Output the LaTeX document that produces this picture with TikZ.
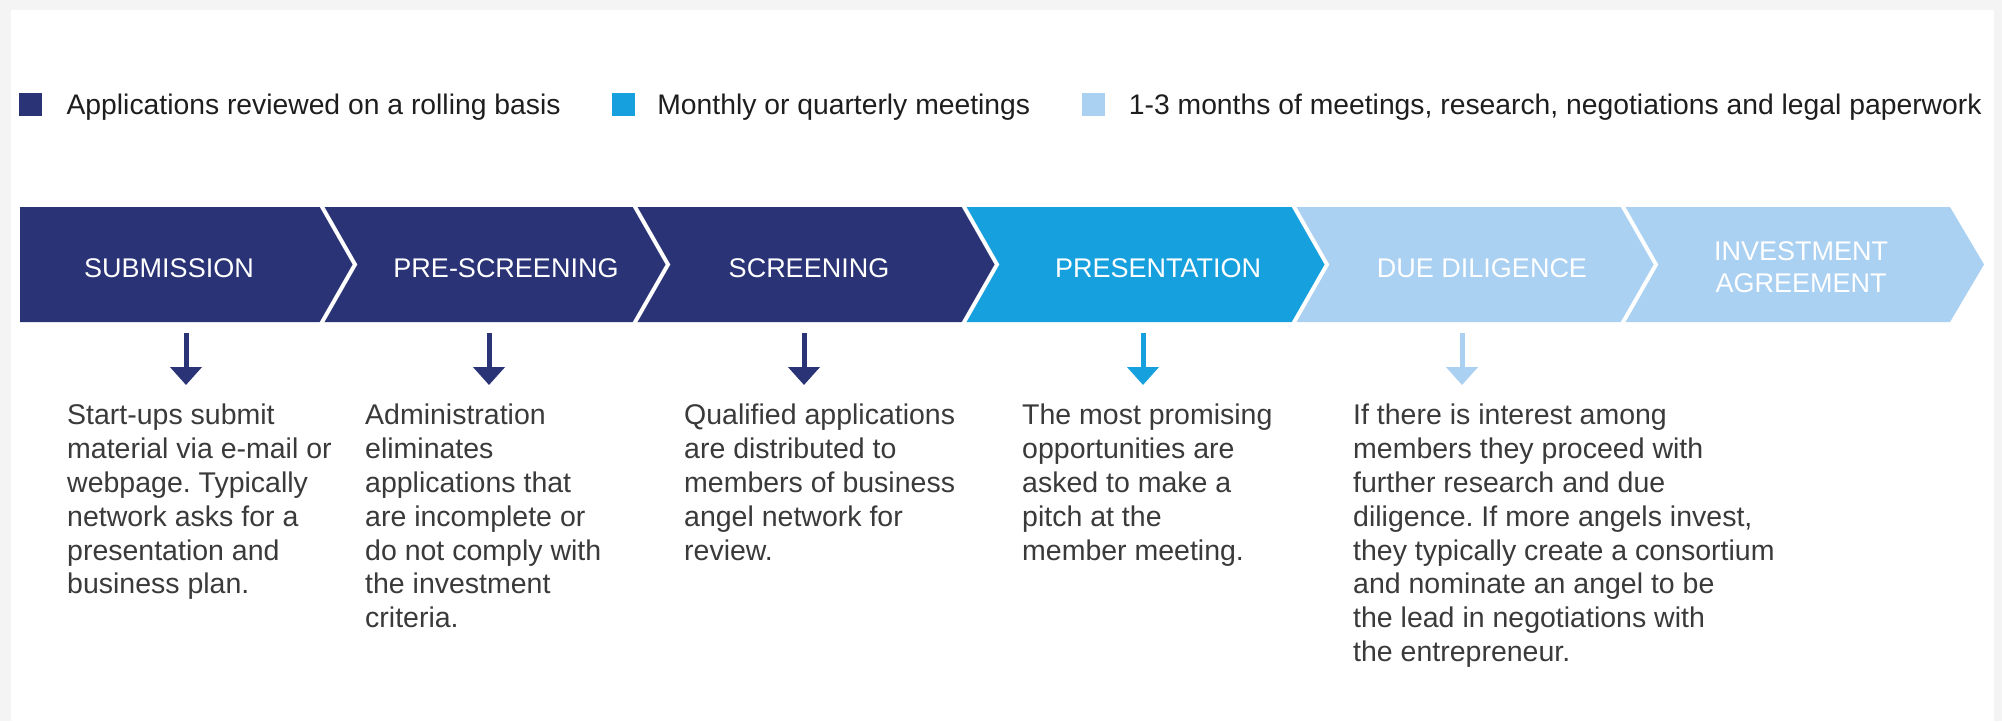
\documentclass[tikz,border=0pt]{standalone}
\usepackage{fontspec}
\setmainfont{Liberation Sans}
\usetikzlibrary{arrows.meta,positioning}
\frenchspacing

\definecolor{navy}{RGB}{41,51,117}
\definecolor{azure}{RGB}{22,160,221}
\definecolor{pale}{RGB}{170,208,242}
\definecolor{ink}{RGB}{58,58,58}
\definecolor{keyink}{RGB}{30,30,30}
\definecolor{frame}{RGB}{244,244,244}

\begin{document}
\begin{tikzpicture}[x=1pt,y=-1pt]
\tikzset{
    band cut/.style={white, line width=4pt, line join=miter},
    stage label/.style={text=white, inner sep=0pt, align=center,
        font=\fontsize{27}{32}\selectfont},
    note/.style={text=ink, inner sep=0pt, align=left, anchor=north west,
        font=\fontsize{28.5}{33.8}\selectfont},
    swatch/.style={fill=#1, minimum size=23pt, inner sep=0pt, anchor=north west},
    key text/.style={text=keyink, inner sep=0pt, text height=24pt, text depth=5pt,
        font=\fontsize{28.3}{34}\selectfont},
    drop/.style={draw=#1, line width=5pt, -{Triangle[length=18pt,width=31pt]}}}
\def\btop{207}
\def\bbot{322}
\def\bmid{264.5}
\def\tip{34}

\useasboundingbox (0,0) rectangle (2002,721);
\fill[frame] (0,0) rectangle (2002,721);
\fill[white] (11,10) rectangle (1994,721);

% legend
\node[swatch=navy] (sq1) at (19,93) {};
\node[key text, right=24pt of sq1] (k1) {Applications reviewed on a rolling basis};
\node[swatch=azure, right=51pt of k1] (sq2) {};
\node[key text, right=22pt of sq2] (k2) {Monthly or quarterly meetings};
\node[swatch=pale, right=51pt of k2] (sq3) {};
\node[key text, right=24pt of sq3] (k3) {1-3 months of meetings, research, negotiations and legal paperwork};

% chevron band
\foreach \a/\b/\n/\col in {20/321/0/navy, 321/634/\tip/navy, 634/963/\tip/navy,
        963/1293/\tip/azure, 1293/1622/\tip/pale, 1622/1950/\tip/pale}{
    \fill[\col] (\a,\btop)--(\b,\btop)--(\b+\tip,\bmid)--(\b,\bbot)--(\a,\bbot)--(\a+\n,\bmid)--cycle;
}
\foreach \b in {321,634,963,1293,1622}{
    \draw[band cut] (\b,\btop-2)--(\b+\tip,\bmid)--(\b,\bbot+2);
}

\node[stage label] (s1) at (169,268) {SUBMISSION};
\node[stage label] (s2) at (506,268) {PRE-SCREENING};
\node[stage label] (s3) at (809,268) {SCREENING};
\node[stage label] (s4) at (1158,268) {PRESENTATION};
\node[stage label] (s5) at (1482,268) {DUE DILIGENCE};
\node[stage label] (s6) at (1801,267.5) {INVESTMENT\\AGREEMENT};

% descriptions
\node[note] (t1) at (67,404) {Start-ups submit\\material via e-mail or\\webpage. Typically\\network asks for a\\presentation and\\business plan.};
\node[note] (t2) at (365,404) {Administration\\eliminates\\applications that\\are incomplete or\\do not comply with\\the investment\\criteria.};
\node[note] (t3) at (684,404) {Qualified applications\\are distributed to\\members of business\\angel network for\\review.};
\node[note] (t4) at (1022,404) {The most promising\\opportunities are\\asked to make a\\pitch at the\\member meeting.};
\node[note] (t5) at (1353,404) {If there is interest among\\members they proceed with\\further research and due\\diligence. If more angels invest,\\they typically create a consortium\\and nominate an angel to be\\the lead in negotiations with\\the entrepreneur.};

% arrows down to the descriptions
\foreach \i/\x/\col in {1/186/navy, 2/489/navy, 3/804/navy, 4/1143/azure, 5/1462/pale}{
    \coordinate (a\i) at (\x,333);
    \coordinate (b\i) at (\x,385);
    \draw[drop=\col] (a\i)--(b\i);
}
\end{tikzpicture}
\end{document}
